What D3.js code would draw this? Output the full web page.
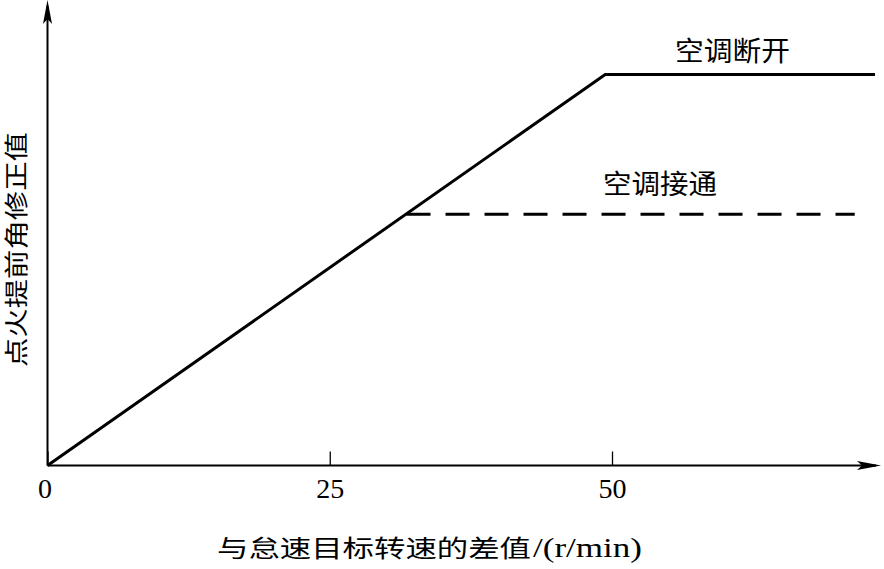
<!DOCTYPE html>
<html>
<head>
<meta charset="utf-8">
<script src="https://cdn.jsdelivr.net/npm/d3@7"></script>
<style>
  body { margin: 0; background: #fff; }
  svg { display: block; }
  .lbl { font-family: "Liberation Serif", "Noto Sans CJK SC", serif; fill: #000; }
</style>
</head>
<body>
<svg id="chart" width="884" height="569"></svg>
<script>
// data (y is unitless, 0-100)
var xTicks = [0, 25, 50];
var offX = [0, 49.4, 73.3];     // 空调断开
var offY = [0, 84, 84];
var onX = [31.8, 71.5];         // 空调接通
var onY = [54, 54];
var seriesNames = ['空调断开', '空调接通'];
var xTitle = '与怠速目标转速的差值';
var xUnit = '/(r/min)';
var yTitle = '点火提前角修正值';

var svg = d3.select('#chart');

// set the ranges
var x = d3.scaleLinear().domain([0, 50]).range([47.5, 612]);
var y = d3.scaleLinear().domain([0, 100]).range([465.5, 0]);

var line = d3.line()
    .x(function (d) { return x(d[0]); })
    .y(function (d) { return y(d[1]); });

// axis lines with arrow heads
svg.append('line')
    .attr('x1', x(0)).attr('y1', y(0))
    .attr('x2', x(0)).attr('y2', 6)
    .attr('stroke', '#000').attr('stroke-width', 2);
svg.append('path')
    .attr('d', 'M' + x(0) + ',0 L' + (x(0) + 4.5) + ',24 L' + x(0) + ',19 L' + (x(0) - 4.5) + ',24 Z')
    .attr('fill', '#000');

svg.append('line')
    .attr('x1', x(0)).attr('y1', y(0))
    .attr('x2', 876).attr('y2', y(0))
    .attr('stroke', '#000').attr('stroke-width', 2);
svg.append('path')
    .attr('d', 'M881,' + y(0) + ' L857,' + (y(0) - 4.5) + ' L862,' + y(0) + ' L857,' + (y(0) + 4.5) + ' Z')
    .attr('fill', '#000');

// x ticks pointing up
var xAxis = d3.axisBottom(x)
    .tickValues(xTicks)
    .tickSizeInner(-14)
    .tickSizeOuter(0)
    .tickPadding(13)
    .tickFormat(d3.format('d'));

var gx = svg.append('g')
    .attr('transform', 'translate(0,' + y(0) + ')')
    .call(xAxis);
gx.select('.domain').remove();
gx.selectAll('.tick line').attr('stroke', '#000').attr('stroke-width', 1.3);
gx.selectAll('.tick text')
    .attr('class', 'lbl')
    .style('font-size', '28px')
    .attr('dx', function (d) { return d === 0 ? -3 : 0; });

// lines
svg.append('path')
    .datum(d3.zip(offX, offY))
    .attr('d', line)
    .attr('fill', 'none')
    .attr('stroke', '#000')
    .attr('stroke-width', 3);

svg.append('path')
    .datum(d3.zip(onX, onY))
    .attr('d', line)
    .attr('fill', 'none')
    .attr('stroke', '#000')
    .attr('stroke-width', 3)
    .attr('stroke-dasharray', '24,15');

// series labels
svg.append('text')
    .attr('class', 'lbl')
    .attr('x', 732.5).attr('y', 61)
    .attr('text-anchor', 'middle')
    .attr('textLength', 115).attr('lengthAdjust', 'spacingAndGlyphs')
    .style('font-size', '27px')
    .text(seriesNames[0]);

svg.append('text')
    .attr('class', 'lbl')
    .attr('x', 660).attr('y', 194)
    .attr('text-anchor', 'middle')
    .attr('textLength', 114).attr('lengthAdjust', 'spacingAndGlyphs')
    .style('font-size', '27px')
    .text(seriesNames[1]);

// axis titles
svg.append('text')
    .attr('class', 'lbl')
    .attr('x', 217).attr('y', 557)
    .attr('textLength', 314).attr('lengthAdjust', 'spacingAndGlyphs')
    .style('font-size', '24px')
    .text(xTitle);

svg.append('text')
    .attr('class', 'lbl')
    .attr('x', 533).attr('y', 557)
    .attr('textLength', 109).attr('lengthAdjust', 'spacingAndGlyphs')
    .style('font-size', '27px')
    .text(xUnit);

svg.append('text')
    .attr('class', 'lbl')
    .attr('transform', 'translate(25,249.5) rotate(-90)')
    .attr('text-anchor', 'middle')
    .attr('textLength', 235).attr('lengthAdjust', 'spacingAndGlyphs')
    .style('font-size', '24px')
    .text(yTitle);
</script>
</body>
</html>
